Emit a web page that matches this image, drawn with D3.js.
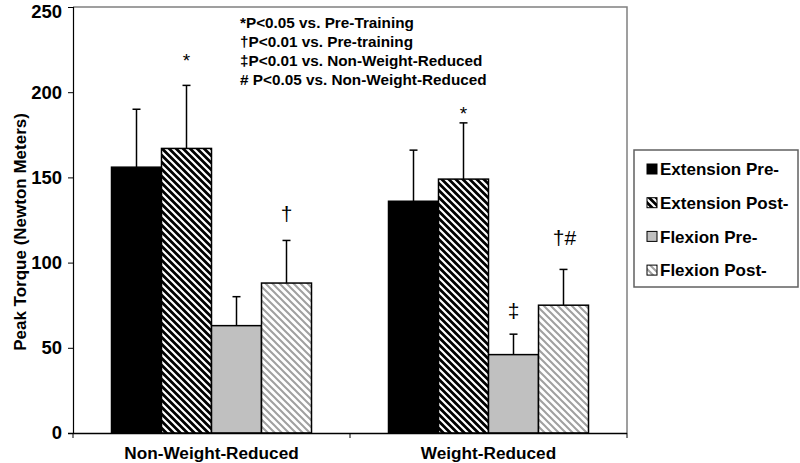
<!DOCTYPE html>
<html><head><meta charset="utf-8">
<script src="https://cdn.jsdelivr.net/npm/d3@7"></script>
<style>body{margin:0;background:#fff;} text{font-family:"Liberation Sans",Arial,sans-serif;font-weight:bold;fill:#000;}</style>
</head><body>
<svg id="c" width="800" height="463"></svg>
<script>
const categories = ["Non-Weight-Reduced", "Weight-Reduced"];
const seriesNames = ["Extension Pre-", "Extension Post-", "Flexion Pre-", "Flexion Post-"];
const means = [[156, 167, 63, 88], [136, 149, 46, 75]];
const errTops = [[190, 204, 80, 113], [166, 182, 58, 96]];
const marks = [["", "*", "", "†"], ["", "*", "‡", "†#"]];
const yTicks = [0, 50, 100, 150, 200, 250];
const notes = ["*P<0.05 vs. Pre-Training", "†P<0.01 vs. Pre-training", "‡P<0.01 vs. Non-Weight-Reduced", "# P<0.05 vs. Non-Weight-Reduced"];

// layout: vertical gap (px) between error-bar cap and significance mark centre
const markGap = [[0, 30, 0, 27], [0, 15, 24, 32]];

const svg = d3.select("#c");
const L = 73, R = 627, T = 7, B = 433;
const defs = svg.append("defs");
function hatch(id, bg, fg, sw) {
  const p = defs.append("pattern").attr("id", id).attr("patternUnits", "userSpaceOnUse")
    .attr("width", 7).attr("height", 7);
  p.append("rect").attr("width", 7).attr("height", 7).attr("fill", bg);
  p.append("path").attr("d", "M-1,-1 L8,8 M-1,6 L1,8 M6,-1 L8,1")
    .attr("stroke", fg).attr("stroke-width", sw);
}
hatch("hDark", "#000", "#fff", 2.2);
hatch("hLight", "#fff", "#a0a0a0", 2);
const fills = ["#000", "url(#hDark)", "#c0c0c0", "url(#hLight)"];

const y = d3.scaleLinear().domain([0, 250]).range([B, T]);
const x0 = d3.scaleBand().domain(categories).range([L, R]).paddingInner(0).paddingOuter(0);
const x1 = d3.scaleBand().domain(seriesNames).range([38.5, x0.bandwidth() - 38.5]).padding(0);

svg.append("path").attr("d", `M${L},${T} H${R} V${B}`).attr("fill", "none").attr("stroke", "#808080").attr("stroke-width", 1.5);

categories.forEach((c, ci) => {
  const g = svg.append("g").attr("transform", `translate(${x0(c)},0)`);
  seriesNames.forEach((s, si) => {
    const bx = x1(s), bw = x1.bandwidth(), cx = bx + bw / 2;
    const yt = y(errTops[ci][si]);
    g.append("line").attr("x1", cx).attr("x2", cx).attr("y1", y(means[ci][si])).attr("y2", yt)
      .attr("stroke", "#000").attr("stroke-width", 1.5);
    g.append("line").attr("x1", cx - 4).attr("x2", cx + 4).attr("y1", yt).attr("y2", yt)
      .attr("stroke", "#000").attr("stroke-width", 1.5);
    g.append("rect").attr("x", bx).attr("y", y(means[ci][si])).attr("width", bw).attr("height", B - y(means[ci][si]))
      .attr("fill", fills[si]).attr("stroke", "#000").attr("stroke-width", 1.5);
    const m = marks[ci][si];
    if (m) {
      const star = m === "*";
      g.append("text").attr("x", cx + (m === "†#" ? 1 : 0)).attr("y", yt - markGap[ci][si])
        .attr("dy", star ? "0.62em" : "0.36em")
        .attr("text-anchor", "middle").attr("font-size", star ? 19 : 21)
        .style("font-weight", "normal").text(m);
    }
  });
});

// y axis
const ya = svg.append("g").attr("transform", `translate(${L},0)`)
  .call(d3.axisLeft(y).tickValues(yTicks).tickSize(5).tickPadding(6));
ya.select(".domain").attr("stroke", "#000").attr("stroke-width", 1.2);
ya.selectAll(".tick line").attr("stroke", "#000");
ya.selectAll("text").attr("font-size", 18.5).attr("fill", "#000").style("font-family", "Liberation Sans, Arial").style("font-weight", "bold");
ya.selectAll(".tick").filter(d => d === 250).select("text").attr("dy", "0.56em");

// x axis
const xa = svg.append("g").attr("transform", `translate(0,${B})`)
  .call(d3.axisBottom(x0).tickSize(0).tickPadding(14));
xa.select(".domain").attr("stroke", "#000").attr("stroke-width", 1.5).attr("d", `M${L - 5},0.5H${R}`);
xa.selectAll("text").attr("font-size", 17.2).attr("fill", "#000").attr("dy", "0.71em").style("font-family", "Liberation Sans, Arial").style("font-weight", "bold");
[L, x0(categories[1]), R].forEach(v => {
  svg.append("line").attr("x1", v).attr("x2", v).attr("y1", B).attr("y2", B + 5).attr("stroke", "#000").attr("stroke-width", 1);
});

// y label
svg.append("text").attr("transform", `translate(20,232) rotate(-90)`).attr("text-anchor", "middle")
  .attr("dy", "0.36em").attr("font-size", 17).text("Peak Torque (Newton Meters)");

// notes
notes.forEach((n, i) => {
  svg.append("text").attr("x", 240).attr("y", 22 + i * 19.3).attr("dy", "0.36em").attr("font-size", 15.3).text(n);
});

// legend
const lg = svg.append("g");
lg.append("rect").attr("x", 634).attr("y", 150).attr("width", 164).attr("height", 137)
  .attr("fill", "#fff").attr("stroke", "#606060").attr("stroke-width", 1.5);
seriesNames.forEach((s, i) => {
  const cy = 169 + i * 33.7;
  lg.append("rect").attr("x", 647).attr("y", cy - 5).attr("width", 10).attr("height", 10)
    .attr("fill", fills[i]).attr("stroke", "#000").attr("stroke-width", 1);
  lg.append("text").attr("x", 660).attr("y", cy).attr("dy", "0.36em").attr("font-size", 17).text(s);
});
</script>
</body></html>
